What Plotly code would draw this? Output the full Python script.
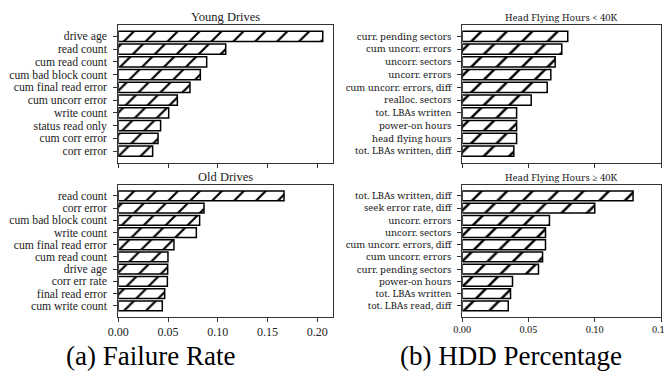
import plotly.graph_objects as go

# ---------------- data ----------------
young_labels = ["drive age", "read count", "cum read count", "cum bad block count",
                "cum final read error", "cum uncorr error", "write count",
                "status read only", "cum corr error", "corr error"]
young_values = [0.2054, 0.1079, 0.0888, 0.0824, 0.0720, 0.0593, 0.0506, 0.0425, 0.0399, 0.0345]

old_labels = ["read count", "corr error", "cum bad block count", "write count",
              "cum final read error", "cum read count", "drive age", "corr err rate",
              "final read error", "cum write count"]
old_values = [0.1665, 0.0861, 0.0817, 0.0784, 0.0559, 0.0499, 0.0496, 0.0493, 0.0466, 0.0442]

low_labels = ["curr. pending sectors", "cum uncorr. errors", "uncorr. sectors",
              "uncorr. errors", "cum uncorr. errors, diff", "realloc. sectors",
              "tot. LBAs written", "power-on hours", "head flying hours",
              "tot. LBAs written, diff"]
low_values = [0.0796, 0.0751, 0.0701, 0.0668, 0.0641, 0.0520, 0.0410, 0.0410, 0.0410, 0.0389]

high_labels = ["tot. LBAs written, diff", "seek error rate, diff", "uncorr. errors",
               "uncorr. sectors", "cum uncorr. errors, diff", "cum uncorr. errors",
               "curr. pending sectors", "power-on hours", "tot. LBAs written",
               "tot. LBAs read, diff"]
high_values = [0.1289, 0.1000, 0.0658, 0.0628, 0.0628, 0.0606, 0.0575, 0.0379, 0.0364, 0.0347]

left_ticks = [0.00, 0.05, 0.10, 0.15, 0.20]
right_ticks = [0.00, 0.05, 0.10, 0.15]

titles = ["Young Drives", "Old Drives", "Head Flying Hours < 40K", "Head Flying Hours \u2265 40K"]
captions = ["(a) Failure Rate", "(b) HDD Percentage"]

# ---------------- layout geometry ----------------
# page body has an 8px margin, so the figure is offset by 8px in the window
OFF = 8
W, H = 672 - OFF, 379 - 2 * OFF


def px(s):
    return (s - OFF) / W


def py(s):
    return 1 - (s - OFF) / H


LEFT_X = [px(118.3), px(333.3)]
RIGHT_X = [px(462.3), px(661.0)]
TOP_Y = [py(162.5), py(25.0)]
BOT_Y = [py(316.7), py(185.0)]

LEFT_FONT = "Liberation Serif"
RIGHT_FONT = "Noto Serif"
AX_COLOR = "#333333"

fig = go.Figure()

panels = [
    (young_labels, young_values, "x", "y", 15.5),
    (old_labels, old_values, "x2", "y2", 15.5),
    (low_labels, low_values, "x3", "y3", 18),
    (high_labels, high_values, "x4", "y4", 18),
]

for labels, values, xa, ya, psize in panels:
    fig.add_trace(go.Bar(
        x=values, y=labels, orientation="h", xaxis=xa, yaxis=ya,
        width=0.8,
        marker=dict(color="white",
                    line=dict(color="black", width=1.5),
                    pattern=dict(shape="/", fgcolor="black", bgcolor="white",
                                 fgopacity=1, size=psize, solidity=0.14)),
        showlegend=False, hoverinfo="skip",
    ))


def xaxis_cfg(domain, rng, ticks, anchor, show_labels, font, fsize):
    return dict(domain=domain, range=rng, anchor=anchor, automargin=False,
                tickmode="array", tickvals=ticks,
                ticktext=[f"{t:.2f}" for t in ticks], showticklabels=show_labels,
                showline=True, mirror=True, linecolor=AX_COLOR, linewidth=1,
                ticks="outside", ticklen=4, tickcolor=AX_COLOR, tickwidth=1,
                showgrid=False, zeroline=False, fixedrange=True,
                tickfont=dict(family=font, size=fsize, color="#222"))


def yaxis_cfg(domain, labels, anchor, font, fsize):
    return dict(domain=domain, anchor=anchor, type="category", automargin=False,
                categoryorder="array", categoryarray=labels[::-1],
                tickmode="array", tickvals=labels, ticktext=labels,
                range=[-0.89, len(labels) - 1 + 0.89],
                showline=True, mirror=True, linecolor=AX_COLOR, linewidth=1,
                ticks="outside", ticklen=4, tickcolor=AX_COLOR, tickwidth=1,
                ticklabelstandoff=4,
                showgrid=False, zeroline=False, fixedrange=True,
                tickfont=dict(family=font, size=fsize, color="#222"))


fig.update_layout(
    width=W, height=H,
    margin=dict(l=0, r=0, t=0, b=0, autoexpand=False),
    paper_bgcolor="white", plot_bgcolor="white",
    bargap=0.2,
    xaxis=xaxis_cfg(LEFT_X, [0, 0.216], left_ticks, "y", False, LEFT_FONT, 12),
    yaxis=yaxis_cfg(TOP_Y, young_labels, "x", LEFT_FONT, 11.7),
    xaxis2=xaxis_cfg(LEFT_X, [0, 0.216], left_ticks, "y2", True, LEFT_FONT, 12),
    yaxis2=yaxis_cfg(BOT_Y, old_labels, "x2", LEFT_FONT, 11.7),
    xaxis3=xaxis_cfg(RIGHT_X, [0, 0.15], right_ticks, "y3", False, RIGHT_FONT, 9.3),
    yaxis3=yaxis_cfg(TOP_Y, low_labels, "x3", RIGHT_FONT, 9.5),
    xaxis4=xaxis_cfg(RIGHT_X, [0, 0.15], right_ticks, "y4", True, RIGHT_FONT, 9.3),
    yaxis4=yaxis_cfg(BOT_Y, high_labels, "x4", RIGHT_FONT, 9.5),
)

title_specs = [
    (titles[0], sum(LEFT_X) / 2, TOP_Y[1], LEFT_FONT, 12.5),
    (titles[1], sum(LEFT_X) / 2, BOT_Y[1], LEFT_FONT, 12.5),
    (titles[2], sum(RIGHT_X) / 2, TOP_Y[1], RIGHT_FONT, 9.5),
    (titles[3], sum(RIGHT_X) / 2, BOT_Y[1], RIGHT_FONT, 9.5),
]
for text, xp, yp, font, fs in title_specs:
    fig.add_annotation(text=text, x=xp, y=yp, xref="paper", yref="paper",
                       xanchor="center", yanchor="bottom", yshift=0, showarrow=False,
                       borderpad=0,
                       font=dict(family=font, size=fs, color="#222"))

fig.add_annotation(text=captions[0], x=px(150), y=py(356), xref="paper", yref="paper",
                   xanchor="center", yanchor="middle", showarrow=False,
                   font=dict(family=LEFT_FONT, size=27, color="black"))
fig.add_annotation(text=captions[1], x=px(511), y=py(356), xref="paper", yref="paper",
                   xanchor="center", yanchor="middle", showarrow=False,
                   font=dict(family=LEFT_FONT, size=27, color="black"))

fig.write_html("out.html")
